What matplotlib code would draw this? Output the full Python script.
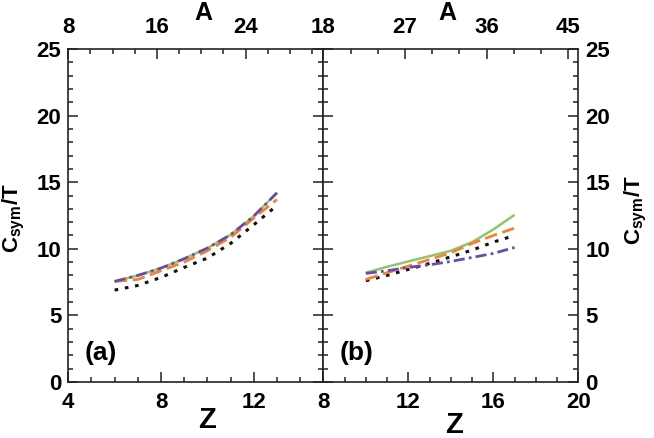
import matplotlib
matplotlib.use("Agg")
import matplotlib.pyplot as plt
from matplotlib.ticker import MultipleLocator

# ---- data ----
Z_a = [6, 7, 8, 9, 10, 11, 12, 13]
green_a = [7.55, 8.0, 8.55, 9.25, 10.05, 11.05, 12.45, 14.2]
black_a = [6.9, 7.25, 7.85, 8.6, 9.3, 10.4, 11.8, 13.25]
orange_a = [7.55, 7.7, 8.35, 9.0, 9.85, 10.85, 12.3, 13.7]
purple_a = [7.55, 8.0, 8.55, 9.25, 10.05, 11.05, 12.45, 14.2]

Z_b = [10, 11, 12, 13, 14, 15, 16, 17]
green_b = [8.2, 8.65, 9.05, 9.45, 9.85, 10.5, 11.45, 12.55]
black_b = [7.6, 8.0, 8.45, 8.9, 9.4, 9.9, 10.5, 11.0]
orange_b = [7.7, 8.2, 8.7, 9.2, 9.7, 10.4, 11.0, 11.55]
purple_b = [8.15, 8.35, 8.6, 8.8, 9.05, 9.35, 9.65, 10.1]

z_lim_a = (4, 15)
z_lim_b = (8, 20)
a_lim_a = (8, 31)
a_lim_b = (18, 46.1)
panel_labels = ["(a)", "(b)"]

plt.rcParams['font.family'] = ['Liberation Sans', 'DejaVu Sans']
plt.rcParams['font.weight'] = 'bold'
plt.rcParams['mathtext.fontset'] = 'custom'
plt.rcParams['mathtext.rm'] = 'Liberation Sans:bold'
plt.rcParams['mathtext.it'] = 'Liberation Sans:bold'
plt.rcParams['mathtext.bf'] = 'Liberation Sans:bold'

GREEN = '#8cc86a'
ORANGE = '#f58233'
PURPLE = '#6a4bad'
BLACK = '#111111'

fig = plt.figure(figsize=(6.54, 4.38), dpi=100)
ax1 = fig.add_axes([0.1044, 0.1279, 0.3899, 0.7602])
ax2 = fig.add_axes([0.4943, 0.1279, 0.3900, 0.7602])

TS = 16

def style(ax, zlim, alim, amaj, amin, left_labels):
    ax.set_xlim(*zlim)
    ax.set_ylim(0, 25)
    ax.xaxis.set_major_locator(MultipleLocator(4))
    ax.xaxis.set_minor_locator(MultipleLocator(1))
    ax.yaxis.set_major_locator(MultipleLocator(5))
    ax.yaxis.set_minor_locator(MultipleLocator(1))
    for s in ax.spines.values():
        s.set_linewidth(1.2)
        s.set_color('#222222')
    ax.tick_params(which='both', direction='in', left=True, right=True,
                   bottom=True, top=False, color='#222222', width=1.1)
    ax.tick_params(which='major', length=7)
    ax.tick_params(which='minor', length=3.5)
    ax.tick_params(axis='x', labelsize=TS, pad=7)
    ax.tick_params(axis='y', labelsize=TS, pad=5,
                   labelleft=left_labels, labelright=not left_labels)
    top = ax.twiny()
    top.set_xlim(*alim)
    top.xaxis.set_major_locator(MultipleLocator(amaj))
    top.xaxis.set_minor_locator(MultipleLocator(amin))
    top.tick_params(which='both', direction='in', color='#222222', width=1.1)
    top.tick_params(which='major', length=7, labelsize=TS, pad=8)
    top.tick_params(which='minor', length=3.5)
    for s in top.spines.values():
        s.set_visible(False)
    return top

style(ax1, z_lim_a, a_lim_a, 8, 2, True)
style(ax2, z_lim_b, a_lim_b, 9, 3, False)

def draw(ax, Z, g, k, o, p):
    ax.plot(Z, g, color=GREEN, lw=1.8, solid_capstyle='butt')
    ax.plot(Z, k, color=BLACK, lw=2.2, dashes=(1.2, 2.2))
    ax.plot(Z, o, color=ORANGE, lw=2.0, dashes=(4.5, 2.0))
    ax.plot(Z, p, color=PURPLE, lw=2.0, dashes=(4.0, 1.5, 1.0, 1.5))

draw(ax1, Z_a, green_a, black_a, orange_a, purple_a)
draw(ax2, Z_b, green_b, black_b, orange_b, purple_b)

ax1.text(0.065, 0.088, panel_labels[0], transform=ax1.transAxes, fontsize=19,
         fontweight='bold', ha='left', va='center')
ax2.text(0.065, 0.088, panel_labels[1], transform=ax2.transAxes, fontsize=19,
         fontweight='bold', ha='left', va='center')

W, H = 654, 438
fig.text(207 / W, 1 - 420 / H, 'Z', fontsize=21, fontweight='bold', ha='center', va='center')
fig.text(454 / W, 1 - 425 / H, 'Z', fontsize=21, fontweight='bold', ha='center', va='center')
fig.text(203 / W, 1 - 13 / H, 'A', fontsize=18, fontweight='bold', ha='center', va='center')
fig.text(447 / W, 1 - 13 / H, 'A', fontsize=18, fontweight='bold', ha='center', va='center')
fig.text(14 / W, 1 - 218 / H, r'C$_{\rm sym}$/T', fontsize=16, fontweight='bold',
         rotation=90, ha='center', va='center')
fig.text(636 / W, 1 - 210 / H, r'C$_{\rm sym}$/T', fontsize=16, fontweight='bold',
         rotation=90, ha='center', va='center')

fig.savefig('out.png', dpi=100)
